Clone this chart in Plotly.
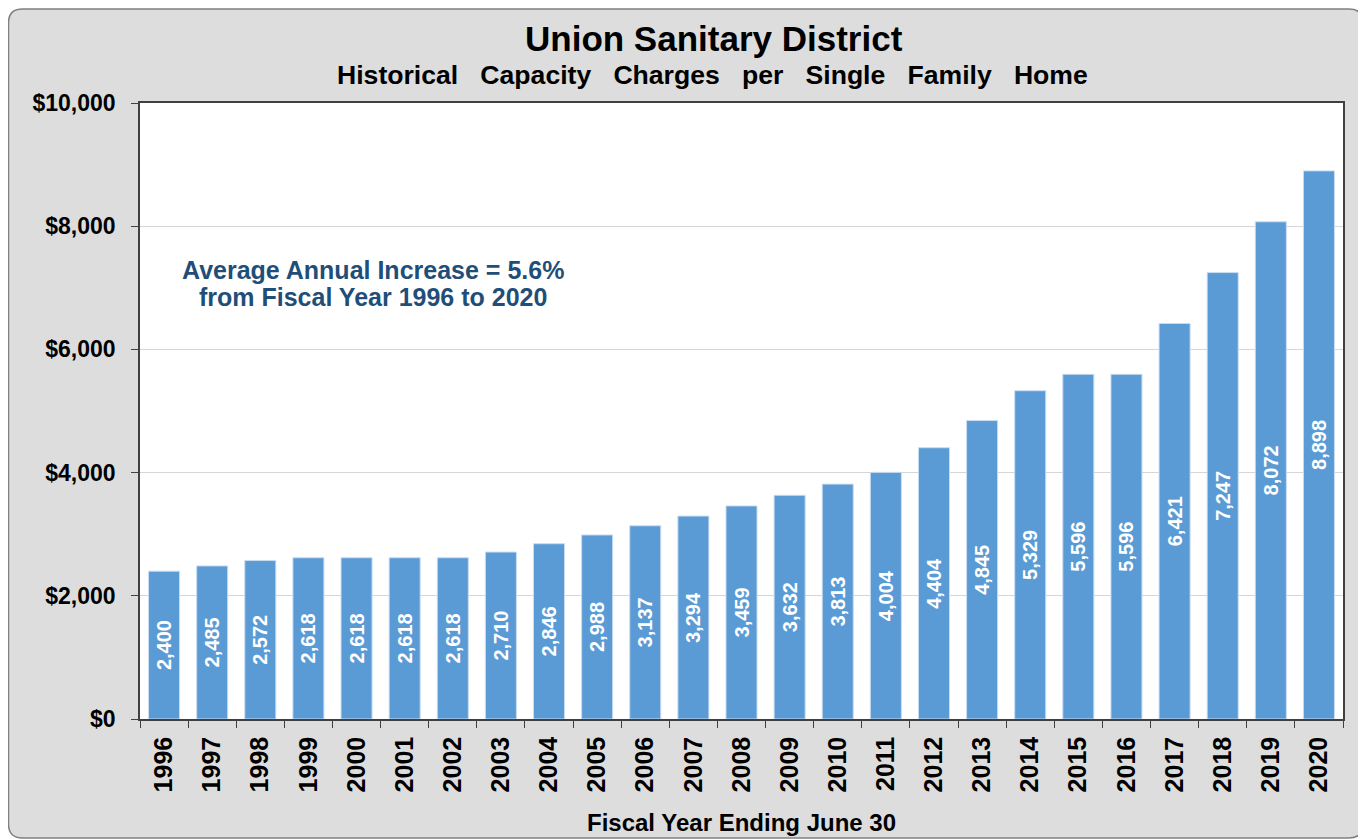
import plotly.graph_objects as go

years = [str(y) for y in range(1996, 2021)]
charges = [2400, 2485, 2572, 2618, 2618, 2618, 2618, 2710, 2846, 2988, 3137, 3294,
           3459, 3632, 3813, 4004, 4404, 4845, 5329, 5596, 5596, 6421, 7247, 8072, 8898]
y_ticks = [0, 2000, 4000, 6000, 8000, 10000]
y_tick_labels = ["$0", "$2,000", "$4,000", "$6,000", "$8,000", "$10,000"]

# page has an 8px body margin; work in page pixels and convert
OFF = 8
W, H = 1366 - OFF, 839 - OFF
L, R, T, B = 140 - OFF, 1343 - OFF, 103 - OFF, 719 - OFF
PW, PH = R - L, B - T


def px(x):  # page pixel -> paper x
    return (x - OFF - L) / PW


def py(y):  # page pixel -> paper y
    return (B - (y - OFF)) / PH


FONT = "Liberation Sans, Arial, sans-serif"

fig = go.Figure()
fig.add_trace(go.Bar(
    x=years, y=charges,
    marker=dict(color="#5b9bd5", line=dict(color="#c9ddf1", width=1)),
    text=[f"{v:,}" for v in charges],
    textposition="inside", insidetextanchor="middle", textangle=-90,
    textfont=dict(family=FONT, size=20, color="white", weight="bold"),
    constraintext="none",
    hoverinfo="x+y",
))

# rounded grey frame
x0, x1, y0, y1, r = px(8.5), px(1363), py(9), py(838), 14
rx, ry = r / PW, r / PH
path = (f"M {x0+rx},{y0} L {x1-rx},{y0} Q {x1},{y0} {x1},{y0-ry} "
        f"L {x1},{y1+ry} Q {x1},{y1} {x1-rx},{y1} L {x0+rx},{y1} "
        f"Q {x0},{y1} {x0},{y1+ry} L {x0},{y0-ry} Q {x0},{y0} {x0+rx},{y0} Z")
fig.add_shape(type="path", path=path, xref="paper", yref="paper", layer="below",
              fillcolor="#dddddd", line=dict(color="#808080", width=1.5))
# white plotting area
fig.add_shape(type="rect", x0=0, x1=1, y0=0, y1=1, xref="paper", yref="paper",
              layer="below", fillcolor="white", line=dict(width=0))


def note(text, x, y, size, color="black"):
    fig.add_annotation(text=text, x=px(x), y=py(y), xref="paper", yref="paper",
                       xanchor="center", yanchor="middle", showarrow=False,
                       font=dict(family=FONT, size=size, color=color))


note("<b>Union Sanitary District</b>", 714, 39, 35)
note("<b>Historical   Capacity   Charges   per   Single   Family   Home</b>", 712, 75, 26.6)
note("<b>Average Annual Increase = 5.6%</b>", 373, 270, 25, "#1f4e79")
note("<b>from Fiscal Year 1996 to 2020</b>", 373, 297, 25, "#1f4e79")
note("<b>Fiscal Year Ending June 30</b>", 741, 822, 24)

fig.update_layout(
    width=W, height=H,
    margin=dict(l=L, r=W - R, t=T, b=H - B, pad=0),
    paper_bgcolor="white", plot_bgcolor="rgba(0,0,0,0)",
    bargap=0.355, showlegend=False,
    font=dict(family=FONT, color="black"),
)
fig.update_xaxes(
    type="category", tickangle=-90, tickson="boundaries",
    ticks="outside", ticklen=7, tickcolor="#404040", ticklabelstandoff=6,
    showline=True, linecolor="#404040", linewidth=1.5, mirror=True,
    tickfont=dict(family=FONT, size=25, color="black", weight="bold"),
    showgrid=False,
)
fig.update_yaxes(
    range=[0, 10000], tickvals=y_ticks, ticktext=y_tick_labels,
    ticks="outside", ticklen=7, tickcolor="#404040", ticklabelstandoff=11,
    showline=True, linecolor="#404040", linewidth=1.5, mirror=True,
    showgrid=True, gridcolor="#d6d6d6", gridwidth=1,
    tickfont=dict(family=FONT, size=23, color="black", weight="bold"),
    zeroline=False,
)

fig.write_html("out.html")
